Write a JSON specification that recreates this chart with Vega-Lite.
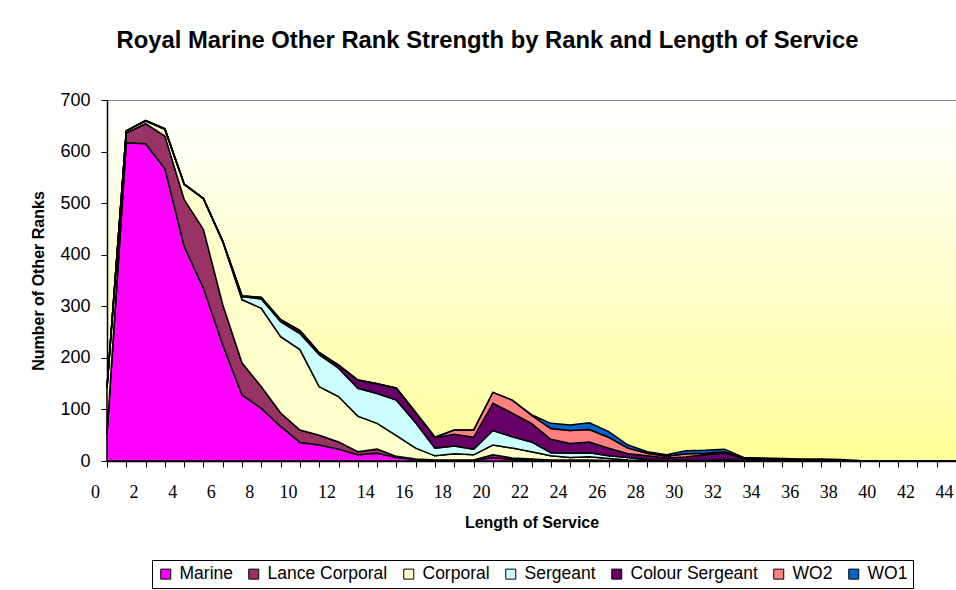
{
  "$schema": "https://vega.github.io/schema/vega-lite/v6.json",
  "autosize": "none",
  "width": 849,
  "height": 361,
  "padding": {"left": 107, "top": 100, "right": 0, "bottom": 129},
  "background": "white",
  "title": {"text": "Royal Marine Other Rank Strength by Rank and Length of Service", "font": "Liberation Sans", "fontSize": 23.8, "fontWeight": "bold", "color": "black", "anchor": "middle", "frame": "group", "dx": -44, "offset": 38},
  "config": {
    "view": {"stroke": "#808080", "strokeWidth": 1, "fill": {"gradient": "linear", "x1": 0, "y1": 0, "x2": 0, "y2": 1, "stops": [{"offset": 0, "color": "#FFFFFF"}, {"offset": 1, "color": "#FFFF99"}]}},
    "font": "Liberation Sans"
  },
  "data": {"values": [
    {"los":0,"rank":"Marine","n":52},{"los":0,"rank":"Lance Corporal","n":0},{"los":0,"rank":"Corporal","n":90},{"los":0,"rank":"Sergeant","n":0},{"los":0,"rank":"Colour Sergeant","n":0},{"los":0,"rank":"WO2","n":0},{"los":0,"rank":"WO1","n":0},
    {"los":1,"rank":"Marine","n":617},{"los":1,"rank":"Lance Corporal","n":19},{"los":1,"rank":"Corporal","n":4},{"los":1,"rank":"Sergeant","n":0},{"los":1,"rank":"Colour Sergeant","n":0},{"los":1,"rank":"WO2","n":0},{"los":1,"rank":"WO1","n":0},
    {"los":2,"rank":"Marine","n":615},{"los":2,"rank":"Lance Corporal","n":39},{"los":2,"rank":"Corporal","n":5},{"los":2,"rank":"Sergeant","n":1},{"los":2,"rank":"Colour Sergeant","n":0},{"los":2,"rank":"WO2","n":0},{"los":2,"rank":"WO1","n":0},
    {"los":3,"rank":"Marine","n":567},{"los":3,"rank":"Lance Corporal","n":63},{"los":3,"rank":"Corporal","n":13},{"los":3,"rank":"Sergeant","n":1},{"los":3,"rank":"Colour Sergeant","n":0},{"los":3,"rank":"WO2","n":0},{"los":3,"rank":"WO1","n":0},
    {"los":4,"rank":"Marine","n":416},{"los":4,"rank":"Lance Corporal","n":91},{"los":4,"rank":"Corporal","n":29},{"los":4,"rank":"Sergeant","n":1},{"los":4,"rank":"Colour Sergeant","n":0},{"los":4,"rank":"WO2","n":0},{"los":4,"rank":"WO1","n":0},
    {"los":5,"rank":"Marine","n":335},{"los":5,"rank":"Lance Corporal","n":114},{"los":5,"rank":"Corporal","n":59},{"los":5,"rank":"Sergeant","n":1},{"los":5,"rank":"Colour Sergeant","n":0},{"los":5,"rank":"WO2","n":0},{"los":5,"rank":"WO1","n":0},
    {"los":6,"rank":"Marine","n":225},{"los":6,"rank":"Lance Corporal","n":78},{"los":6,"rank":"Corporal","n":122},{"los":6,"rank":"Sergeant","n":1},{"los":6,"rank":"Colour Sergeant","n":0},{"los":6,"rank":"WO2","n":0},{"los":6,"rank":"WO1","n":0},
    {"los":7,"rank":"Marine","n":128},{"los":7,"rank":"Lance Corporal","n":62},{"los":7,"rank":"Corporal","n":123},{"los":7,"rank":"Sergeant","n":6},{"los":7,"rank":"Colour Sergeant","n":1},{"los":7,"rank":"WO2","n":0},{"los":7,"rank":"WO1","n":0},
    {"los":8,"rank":"Marine","n":102},{"los":8,"rank":"Lance Corporal","n":42},{"los":8,"rank":"Corporal","n":152},{"los":8,"rank":"Sergeant","n":18},{"los":8,"rank":"Colour Sergeant","n":3},{"los":8,"rank":"WO2","n":0},{"los":8,"rank":"WO1","n":0},
    {"los":9,"rank":"Marine","n":67},{"los":9,"rank":"Lance Corporal","n":26},{"los":9,"rank":"Corporal","n":148},{"los":9,"rank":"Sergeant","n":29},{"los":9,"rank":"Colour Sergeant","n":4},{"los":9,"rank":"WO2","n":0},{"los":9,"rank":"WO1","n":0},
    {"los":10,"rank":"Marine","n":36},{"los":10,"rank":"Lance Corporal","n":24},{"los":10,"rank":"Corporal","n":156},{"los":10,"rank":"Sergeant","n":31},{"los":10,"rank":"Colour Sergeant","n":6},{"los":10,"rank":"WO2","n":0},{"los":10,"rank":"WO1","n":0},
    {"los":11,"rank":"Marine","n":31},{"los":11,"rank":"Lance Corporal","n":19},{"los":11,"rank":"Corporal","n":94},{"los":11,"rank":"Sergeant","n":62},{"los":11,"rank":"Colour Sergeant","n":4},{"los":11,"rank":"WO2","n":0},{"los":11,"rank":"WO1","n":0},
    {"los":12,"rank":"Marine","n":23},{"los":12,"rank":"Lance Corporal","n":14},{"los":12,"rank":"Corporal","n":88},{"los":12,"rank":"Sergeant","n":55},{"los":12,"rank":"Colour Sergeant","n":6},{"los":12,"rank":"WO2","n":0},{"los":12,"rank":"WO1","n":0},
    {"los":13,"rank":"Marine","n":12},{"los":13,"rank":"Lance Corporal","n":6},{"los":13,"rank":"Corporal","n":69},{"los":13,"rank":"Sergeant","n":54},{"los":13,"rank":"Colour Sergeant","n":16},{"los":13,"rank":"WO2","n":0},{"los":13,"rank":"WO1","n":0},
    {"los":14,"rank":"Marine","n":15},{"los":14,"rank":"Lance Corporal","n":8},{"los":14,"rank":"Corporal","n":50},{"los":14,"rank":"Sergeant","n":58},{"los":14,"rank":"Colour Sergeant","n":19},{"los":14,"rank":"WO2","n":0},{"los":14,"rank":"WO1","n":0},
    {"los":15,"rank":"Marine","n":7},{"los":15,"rank":"Lance Corporal","n":2},{"los":15,"rank":"Corporal","n":40},{"los":15,"rank":"Sergeant","n":69},{"los":15,"rank":"Colour Sergeant","n":23},{"los":15,"rank":"WO2","n":0},{"los":15,"rank":"WO1","n":0},
    {"los":16,"rank":"Marine","n":3},{"los":16,"rank":"Lance Corporal","n":1},{"los":16,"rank":"Corporal","n":21},{"los":16,"rank":"Sergeant","n":49},{"los":16,"rank":"Colour Sergeant","n":19},{"los":16,"rank":"WO2","n":1},{"los":16,"rank":"WO1","n":0},
    {"los":17,"rank":"Marine","n":1},{"los":17,"rank":"Lance Corporal","n":1},{"los":17,"rank":"Corporal","n":8},{"los":17,"rank":"Sergeant","n":15},{"los":17,"rank":"Colour Sergeant","n":20},{"los":17,"rank":"WO2","n":1},{"los":17,"rank":"WO1","n":0},
    {"los":18,"rank":"Marine","n":1},{"los":18,"rank":"Lance Corporal","n":1},{"los":18,"rank":"Corporal","n":12},{"los":18,"rank":"Sergeant","n":15},{"los":18,"rank":"Colour Sergeant","n":23},{"los":18,"rank":"WO2","n":8},{"los":18,"rank":"WO1","n":0},
    {"los":19,"rank":"Marine","n":1},{"los":19,"rank":"Lance Corporal","n":1},{"los":19,"rank":"Corporal","n":10},{"los":19,"rank":"Sergeant","n":11},{"los":19,"rank":"Colour Sergeant","n":23},{"los":19,"rank":"WO2","n":14},{"los":19,"rank":"WO1","n":0},
    {"los":20,"rank":"Marine","n":7},{"los":20,"rank":"Lance Corporal","n":5},{"los":20,"rank":"Corporal","n":19},{"los":20,"rank":"Sergeant","n":28},{"los":20,"rank":"Colour Sergeant","n":53},{"los":20,"rank":"WO2","n":21},{"los":20,"rank":"WO1","n":0},
    {"los":21,"rank":"Marine","n":3},{"los":21,"rank":"Lance Corporal","n":3},{"los":21,"rank":"Corporal","n":19},{"los":21,"rank":"Sergeant","n":22},{"los":21,"rank":"Colour Sergeant","n":46},{"los":21,"rank":"WO2","n":25},{"los":21,"rank":"WO1","n":0},
    {"los":22,"rank":"Marine","n":2},{"los":22,"rank":"Lance Corporal","n":2},{"los":22,"rank":"Corporal","n":14},{"los":22,"rank":"Sergeant","n":19},{"los":22,"rank":"Colour Sergeant","n":36},{"los":22,"rank":"WO2","n":16},{"los":22,"rank":"WO1","n":1},
    {"los":23,"rank":"Marine","n":1},{"los":23,"rank":"Lance Corporal","n":1},{"los":23,"rank":"Corporal","n":8},{"los":23,"rank":"Sergeant","n":6},{"los":23,"rank":"Colour Sergeant","n":26},{"los":23,"rank":"WO2","n":21},{"los":23,"rank":"WO1","n":10},
    {"los":24,"rank":"Marine","n":1},{"los":24,"rank":"Lance Corporal","n":1},{"los":24,"rank":"Corporal","n":5},{"los":24,"rank":"Sergeant","n":8},{"los":24,"rank":"Colour Sergeant","n":19},{"los":24,"rank":"WO2","n":25},{"los":24,"rank":"WO1","n":11},
    {"los":25,"rank":"Marine","n":1},{"los":25,"rank":"Lance Corporal","n":1},{"los":25,"rank":"Corporal","n":6},{"los":25,"rank":"Sergeant","n":8},{"los":25,"rank":"Colour Sergeant","n":21},{"los":25,"rank":"WO2","n":24},{"los":25,"rank":"WO1","n":13},
    {"los":26,"rank":"Marine","n":0},{"los":26,"rank":"Lance Corporal","n":1},{"los":26,"rank":"Corporal","n":4},{"los":26,"rank":"Sergeant","n":5},{"los":26,"rank":"Colour Sergeant","n":15},{"los":26,"rank":"WO2","n":21},{"los":26,"rank":"WO1","n":11},
    {"los":27,"rank":"Marine","n":0},{"los":27,"rank":"Lance Corporal","n":0},{"los":27,"rank":"Corporal","n":2},{"los":27,"rank":"Sergeant","n":5},{"los":27,"rank":"Colour Sergeant","n":7},{"los":27,"rank":"WO2","n":11},{"los":27,"rank":"WO1","n":6},
    {"los":28,"rank":"Marine","n":0},{"los":28,"rank":"Lance Corporal","n":0},{"los":28,"rank":"Corporal","n":1},{"los":28,"rank":"Sergeant","n":2},{"los":28,"rank":"Colour Sergeant","n":7},{"los":28,"rank":"WO2","n":5},{"los":28,"rank":"WO1","n":3},
    {"los":29,"rank":"Marine","n":0},{"los":29,"rank":"Lance Corporal","n":0},{"los":29,"rank":"Corporal","n":0},{"los":29,"rank":"Sergeant","n":1},{"los":29,"rank":"Colour Sergeant","n":5},{"los":29,"rank":"WO2","n":3},{"los":29,"rank":"WO1","n":3},
    {"los":30,"rank":"Marine","n":0},{"los":30,"rank":"Lance Corporal","n":0},{"los":30,"rank":"Corporal","n":1},{"los":30,"rank":"Sergeant","n":1},{"los":30,"rank":"Colour Sergeant","n":6},{"los":30,"rank":"WO2","n":6},{"los":30,"rank":"WO1","n":6},
    {"los":31,"rank":"Marine","n":0},{"los":31,"rank":"Lance Corporal","n":0},{"los":31,"rank":"Corporal","n":0},{"los":31,"rank":"Sergeant","n":1},{"los":31,"rank":"Colour Sergeant","n":11},{"los":31,"rank":"WO2","n":3},{"los":31,"rank":"WO1","n":6},
    {"los":32,"rank":"Marine","n":0},{"los":32,"rank":"Lance Corporal","n":0},{"los":32,"rank":"Corporal","n":1},{"los":32,"rank":"Sergeant","n":2},{"los":32,"rank":"Colour Sergeant","n":13},{"los":32,"rank":"WO2","n":2},{"los":32,"rank":"WO1","n":5},
    {"los":33,"rank":"Marine","n":0},{"los":33,"rank":"Lance Corporal","n":0},{"los":33,"rank":"Corporal","n":0},{"los":33,"rank":"Sergeant","n":1},{"los":33,"rank":"Colour Sergeant","n":4},{"los":33,"rank":"WO2","n":0},{"los":33,"rank":"WO1","n":2},
    {"los":34,"rank":"Marine","n":0},{"los":34,"rank":"Lance Corporal","n":0},{"los":34,"rank":"Corporal","n":0},{"los":34,"rank":"Sergeant","n":0},{"los":34,"rank":"Colour Sergeant","n":3},{"los":34,"rank":"WO2","n":1},{"los":34,"rank":"WO1","n":2},
    {"los":35,"rank":"Marine","n":0},{"los":35,"rank":"Lance Corporal","n":0},{"los":35,"rank":"Corporal","n":0},{"los":35,"rank":"Sergeant","n":0},{"los":35,"rank":"Colour Sergeant","n":2},{"los":35,"rank":"WO2","n":1},{"los":35,"rank":"WO1","n":2},
    {"los":36,"rank":"Marine","n":0},{"los":36,"rank":"Lance Corporal","n":0},{"los":36,"rank":"Corporal","n":0},{"los":36,"rank":"Sergeant","n":0},{"los":36,"rank":"Colour Sergeant","n":2},{"los":36,"rank":"WO2","n":0},{"los":36,"rank":"WO1","n":2},
    {"los":37,"rank":"Marine","n":0},{"los":37,"rank":"Lance Corporal","n":0},{"los":37,"rank":"Corporal","n":0},{"los":37,"rank":"Sergeant","n":0},{"los":37,"rank":"Colour Sergeant","n":2},{"los":37,"rank":"WO2","n":0},{"los":37,"rank":"WO1","n":2},
    {"los":38,"rank":"Marine","n":0},{"los":38,"rank":"Lance Corporal","n":0},{"los":38,"rank":"Corporal","n":0},{"los":38,"rank":"Sergeant","n":0},{"los":38,"rank":"Colour Sergeant","n":1},{"los":38,"rank":"WO2","n":0},{"los":38,"rank":"WO1","n":2},
    {"los":39,"rank":"Marine","n":0},{"los":39,"rank":"Lance Corporal","n":0},{"los":39,"rank":"Corporal","n":0},{"los":39,"rank":"Sergeant","n":0},{"los":39,"rank":"Colour Sergeant","n":0},{"los":39,"rank":"WO2","n":0},{"los":39,"rank":"WO1","n":1},
    {"los":40,"rank":"Marine","n":0},{"los":40,"rank":"Lance Corporal","n":0},{"los":40,"rank":"Corporal","n":0},{"los":40,"rank":"Sergeant","n":0},{"los":40,"rank":"Colour Sergeant","n":0},{"los":40,"rank":"WO2","n":0},{"los":40,"rank":"WO1","n":0},
    {"los":41,"rank":"Marine","n":0},{"los":41,"rank":"Lance Corporal","n":0},{"los":41,"rank":"Corporal","n":0},{"los":41,"rank":"Sergeant","n":0},{"los":41,"rank":"Colour Sergeant","n":0},{"los":41,"rank":"WO2","n":0},{"los":41,"rank":"WO1","n":0},
    {"los":42,"rank":"Marine","n":0},{"los":42,"rank":"Lance Corporal","n":0},{"los":42,"rank":"Corporal","n":0},{"los":42,"rank":"Sergeant","n":0},{"los":42,"rank":"Colour Sergeant","n":0},{"los":42,"rank":"WO2","n":0},{"los":42,"rank":"WO1","n":0},
    {"los":43,"rank":"Marine","n":0},{"los":43,"rank":"Lance Corporal","n":0},{"los":43,"rank":"Corporal","n":0},{"los":43,"rank":"Sergeant","n":0},{"los":43,"rank":"Colour Sergeant","n":0},{"los":43,"rank":"WO2","n":0},{"los":43,"rank":"WO1","n":0},
    {"los":44,"rank":"Marine","n":0},{"los":44,"rank":"Lance Corporal","n":0},{"los":44,"rank":"Corporal","n":0},{"los":44,"rank":"Sergeant","n":0},{"los":44,"rank":"Colour Sergeant","n":0},{"los":44,"rank":"WO2","n":0},{"los":44,"rank":"WO1","n":0}
  ]},
  "transform": [
    {"calculate": "indexof(['Marine','Lance Corporal','Corporal','Sergeant','Colour Sergeant','WO2','WO1'], datum.rank)", "as": "stackOrder"}
  ],
  "mark": {"type": "area", "stroke": "black", "strokeWidth": 1.5, "strokeJoin": "miter", "opacity": 1, "fillOpacity": 1},
  "encoding": {
    "x": {
      "field": "los", "type": "quantitative",
      "scale": {"domain": [0, 44], "nice": false, "zero": false},
      "axis": {
        "title": "Length of Service", "titleFont": "Liberation Sans", "titleFontSize": 16, "titleFontWeight": "bold", "titleColor": "black", "titlePadding": 13,
        "values": [0,1,2,3,4,5,6,7,8,9,10,11,12,13,14,15,16,17,18,19,20,21,22,23,24,25,26,27,28,29,30,31,32,33,34,35,36,37,38,39,40,41,42,43,44],
        "labelExpr": "datum.value % 2 === 0 ? datum.label : ''",
        "labelFont": "Liberation Sans Narrow", "labelFontSize": 18, "labelColor": "black", "labelOffset": -12, "labelPadding": 16, "labelOverlap": false, "labelFlush": false,
        "tickColor": "black", "tickSize": 6, "domainColor": "black", "domainWidth": 1.5, "grid": false
      }
    },
    "y": {
      "field": "n", "type": "quantitative", "stack": "zero",
      "scale": {"domain": [0, 700], "nice": false},
      "axis": {
        "title": "Number of Other Ranks", "titleFont": "Liberation Sans", "titleFontSize": 16, "titleFontWeight": "bold", "titleColor": "black", "titlePadding": 13,
        "values": [0,100,200,300,400,500,600,700],
        "labelFont": "Liberation Sans", "labelFontSize": 18, "labelColor": "black", "labelPadding": 11,
        "tickColor": "black", "tickSize": 6, "domainColor": "black", "domainWidth": 1.5, "grid": false
      }
    },
    "order": {"field": "stackOrder", "type": "quantitative"},
    "color": {
      "field": "rank", "type": "nominal",
      "scale": {"domain": ["Marine", "Lance Corporal", "Corporal", "Sergeant", "Colour Sergeant", "WO2", "WO1"], "range": ["#FF00FF", "#993366", "#FFFFCC", "#CCFFFF", "#660066", "#FF8080", "#0066CC"]},
      "legend": {
        "orient": "none", "legendX": 45, "legendY": 460, "direction": "horizontal", "columns": 7, "title": null,
        "strokeColor": "black", "fillColor": "white", "padding": 5,
        "symbolType": "square", "symbolSize": 100, "symbolStrokeColor": "black", "symbolStrokeWidth": 1, "symbolOpacity": 1,
        "labelFont": "Liberation Sans", "labelFontSize": 17.5, "labelColor": "black", "labelOffset": 5, "columnPadding": 12
      }
    }
  }
}
